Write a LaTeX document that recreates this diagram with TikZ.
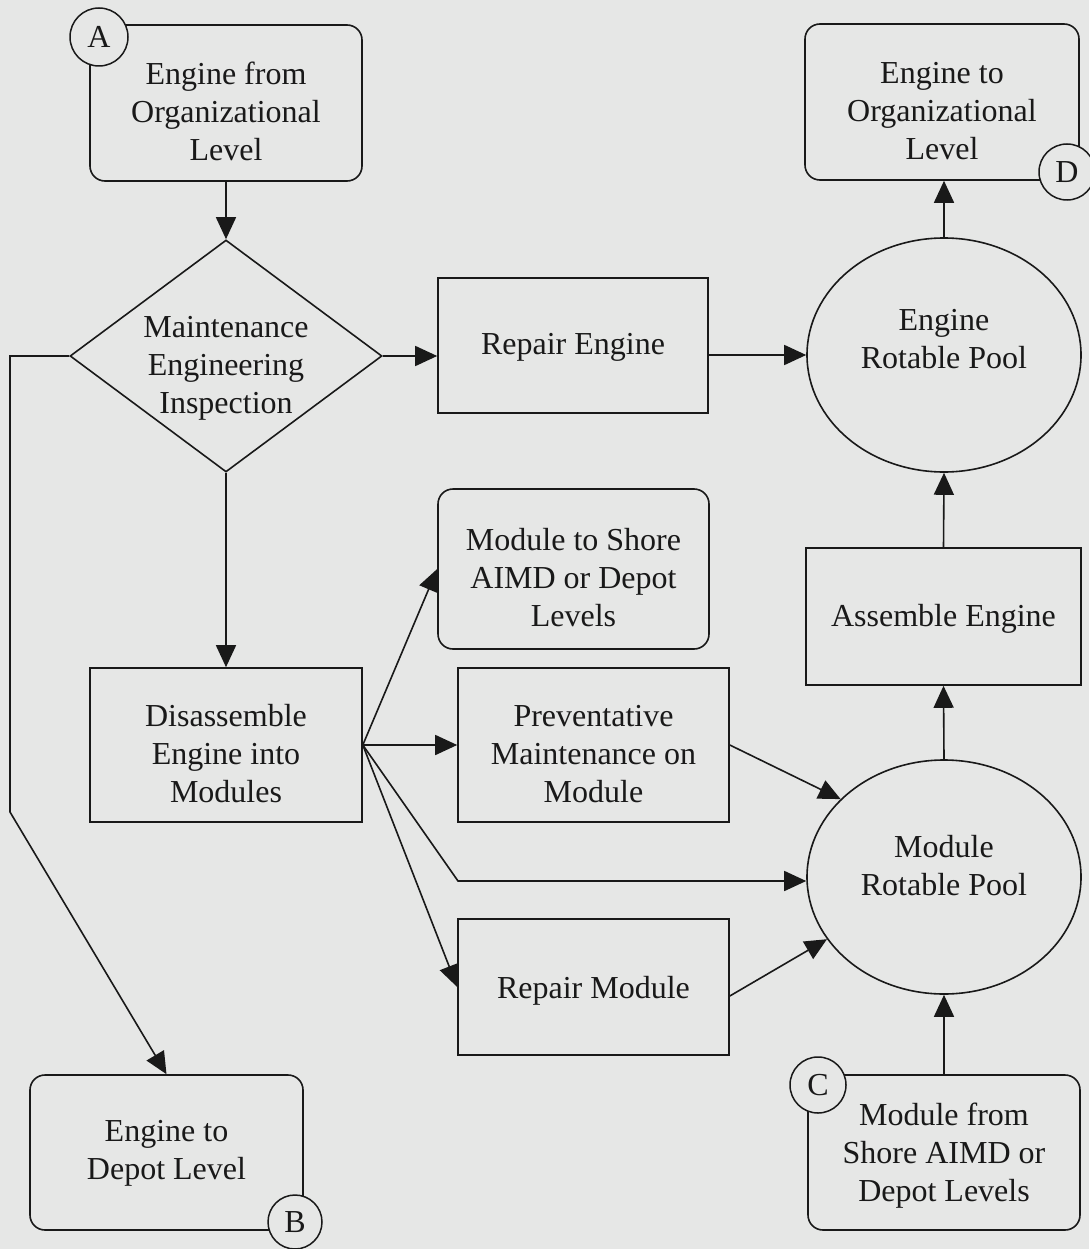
\documentclass[tikz,border=0pt]{standalone}
\usepackage{fontspec}
\setmainfont{Liberation Serif}
\usetikzlibrary{shapes.geometric,arrows.meta}
\definecolor{bgc}{RGB}{230,231,230}
\definecolor{ink}{RGB}{25,25,25}
\begin{document}
\begin{tikzpicture}[x=1pt,y=-1pt,
  every node/.style={font=\fontsize{32}{38}\selectfont, text=ink},
  sbox/.style={draw=ink, line width=1.6pt, inner sep=0pt},
  rbox/.style={sbox, rounded corners=15pt},
  pool/.style={ellipse, draw=ink, line width=1.6pt, minimum width=274pt, minimum height=234pt, inner sep=0pt},
  conn/.style={circle, draw=ink, fill=bgc, line width=1.5pt, minimum size=56pt, inner sep=0pt},
  arr/.style={draw=ink, line width=1.6pt, -{Triangle[length=22pt,width=20pt]}},
  lbl/.style={align=center, inner sep=0pt}
]
\fill[bgc] (0,0) rectangle (1089,1249);
\useasboundingbox (0,0) rectangle (1089,1249);

% boxes (text placed as labels so that it sits where the reference prints it)
\node[rbox, minimum width=272pt, minimum height=156pt,
  label={[lbl,yshift=-8pt]center:{Engine from\\Organizational\\Level}}] (A) at (226,103) {};
\node[draw=ink, line width=1.6pt, diamond, minimum width=312pt, minimum height=232pt, inner sep=0pt,
  label={[lbl,yshift=-12pt]center:{Maintenance\\Engineering\\Inspection}}] (mei) at (226,356) {};
\node[sbox, minimum width=270pt, minimum height=135pt,
  label={[lbl,yshift=-2pt]center:{Repair Engine}}] (re) at (573,345.5) {};
\node[pool, label={[lbl,yshift=16pt]center:{Engine\\Rotable Pool}}] (erp) at (944,355) {};
\node[rbox, minimum width=274pt, minimum height=156pt,
  label={[lbl,yshift=-9pt]center:{Engine to\\Organizational\\Level}}] (D) at (942,102) {};
\node[rbox, minimum width=271pt, minimum height=160pt,
  label={[lbl,yshift=-9pt]center:{Module to Shore\\AIMD or Depot\\Levels}}] (mts) at (573.5,569) {};
\node[sbox, minimum width=272pt, minimum height=154pt,
  label={[lbl,yshift=-9pt]center:{Disassemble\\Engine into\\Modules}}] (dis) at (226,745) {};
\node[sbox, minimum width=271pt, minimum height=154pt,
  label={[lbl,yshift=-9pt]center:{Preventative\\Maintenance on\\Module}}] (pm) at (593.5,745) {};
\node[sbox, minimum width=275pt, minimum height=137pt,
  label={[lbl,yshift=-2pt]center:{Assemble Engine}}] (ae) at (943.5,616.5) {};
\node[pool, label={[lbl,yshift=11pt]center:{Module\\Rotable Pool}}] (mrp) at (944,877) {};
\node[sbox, minimum width=271pt, minimum height=136pt,
  label={[lbl,yshift=-4pt]center:{Repair Module}}] (rm) at (593.5,987) {};
\node[rbox, minimum width=273pt, minimum height=155pt,
  label={[lbl,yshift=-1pt]center:{Engine to\\Depot Level}}] (B) at (166.5,1152.5) {};
\node[rbox, minimum width=272pt, minimum height=155pt,
  label={[lbl,yshift=-3pt]center:{Module from\\Shore AIMD or\\Depot Levels}}] (C) at (944,1152.5) {};

% connector circles
\node[conn, minimum size=58pt] (cA) at (99,37) {A};
\node[conn] (cD) at (1067,172) {D};
\node[conn, minimum size=54pt] (cB) at (295,1222) {B};
\node[conn] (cC) at (818,1085) {C};

% connectors
\coordinate (k1) at (10,812);
\coordinate (k2) at (458,881);
\draw[arr] (A.south) -- (mei.north);
\draw[arr] (mei.south) -- (dis.north);
\draw[arr] (mei.east) -- (mei.east -| re.west);
\draw[arr] (re.east |- erp.west) -- (erp.west);
\draw[arr] (erp.north) -- (erp.north |- D.south);
\draw[arr] (mei.west) -| (k1) -- (B.north);
\draw[arr] (dis.east) -- (mts.west);
\draw[arr] (dis.east) -- (pm.west);
\draw[arr] (dis.east) -- (k2) -- (k2 -| mrp.west);
\draw[arr] (dis.east) -- (rm.west);
\draw[arr] (pm.east) -- (mrp.143);
\draw[arr] ([yshift=-9pt]rm.east) -- (mrp.208);
\draw[arr] (mrp.north) -- (ae.south);
\draw[arr] (ae.north) -- (erp.south);
\draw[arr] (C.north) -- (mrp.south);
\end{tikzpicture}
\end{document}
